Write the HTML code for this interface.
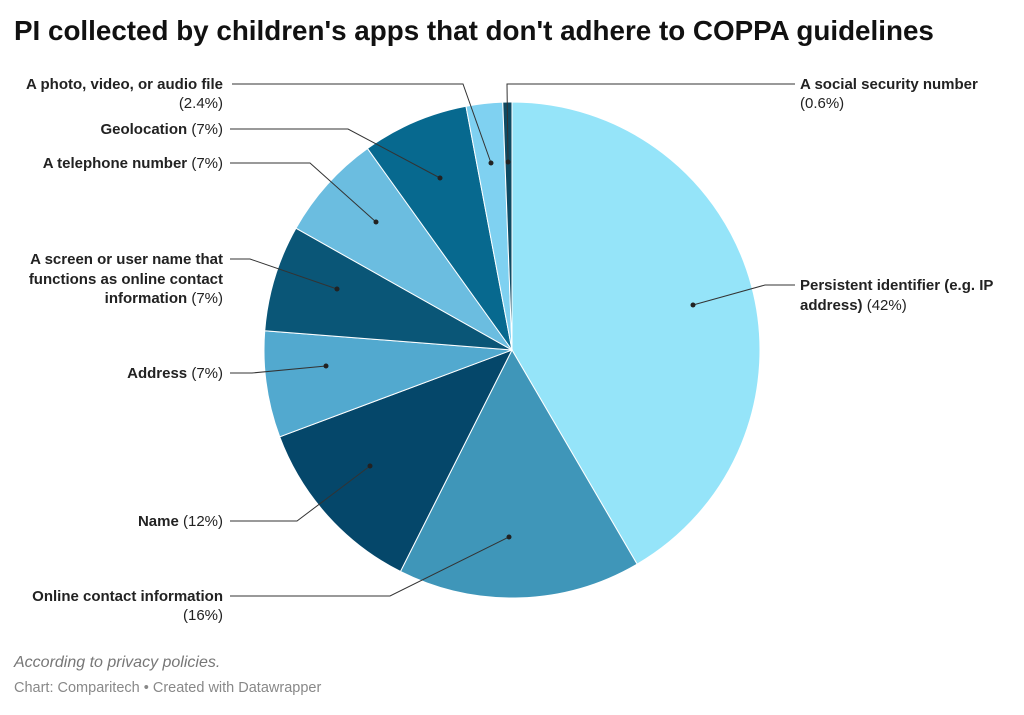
<!DOCTYPE html>
<html><head><meta charset="utf-8"><style>
body{margin:0;background:#fff;font-family:"Liberation Sans",sans-serif;}
svg text{font-family:"Liberation Sans",sans-serif;font-size:15px;fill:#222;}
.b{font-weight:bold;}
</style></head><body>
<svg width="1024" height="710" xmlns="http://www.w3.org/2000/svg">
<text x="14" y="40" style="font-size:27.8px;font-weight:bold;fill:#111">PI collected by children's apps that don't adhere to COPPA guidelines</text>
<g id="pie"></g>
<g stroke="#333" stroke-width="1" fill="none">
<polyline points="795,84 507,84 508,162"/>
<polyline points="232,84 463,84 491,163"/>
<polyline points="230,129 348,129 440,178"/>
<polyline points="230,163 310,163 376,222"/>
<polyline points="230,259 250,259 337,289"/>
<polyline points="230,373 252,373 326,366"/>
<polyline points="230,521 297,521 370,466"/>
<polyline points="230,596 390,596 509,537"/>
<polyline points="795,285 765,285 693,305"/>
</g>
<g fill="#222">
<circle cx="508" cy="162" r="2.5"/><circle cx="491" cy="163" r="2.5"/><circle cx="440" cy="178" r="2.5"/>
<circle cx="376" cy="222" r="2.5"/><circle cx="337" cy="289" r="2.5"/><circle cx="326" cy="366" r="2.5"/>
<circle cx="370" cy="466" r="2.5"/><circle cx="509" cy="537" r="2.5"/><circle cx="693" cy="305" r="2.5"/>
</g>
<text x="800" y="89" class="b">A social security number</text>
<text x="800" y="108">(0.6%)</text>
<text x="223" y="89" text-anchor="end" class="b">A photo, video, or audio file</text>
<text x="223" y="108" text-anchor="end">(2.4%)</text>
<text x="223" y="134" text-anchor="end"><tspan class="b">Geolocation</tspan> (7%)</text>
<text x="223" y="168" text-anchor="end"><tspan class="b">A telephone number</tspan> (7%)</text>
<text x="223" y="264" text-anchor="end" class="b">A screen or user name that</text>
<text x="223" y="284" text-anchor="end" class="b">functions as online contact</text>
<text x="223" y="303" text-anchor="end"><tspan class="b">information</tspan> (7%)</text>
<text x="223" y="378" text-anchor="end"><tspan class="b">Address</tspan> (7%)</text>
<text x="223" y="526" text-anchor="end"><tspan class="b">Name</tspan> (12%)</text>
<text x="223" y="601" text-anchor="end" class="b">Online contact information</text>
<text x="223" y="620" text-anchor="end">(16%)</text>
<text x="800" y="290" class="b">Persistent identifier (e.g. IP</text>
<text x="800" y="310"><tspan class="b">address)</tspan> (42%)</text>
<text x="14" y="667" style="font-size:16px;font-style:italic;fill:#777">According to privacy policies.</text>
<text x="14" y="692" style="font-size:14.5px;fill:#888">Chart: Comparitech • Created with Datawrapper</text>
</svg>
<script>
var d=[[42,"#95e4f9"],[16,"#3f96b9"],[12,"#05476a"],[7,"#52a9cf"],[7,"#0a5677"],[7,"#6bbde0"],[7,"#07698f"],[2.4,"#7fd1f1"],[0.6,"#0d4a63"]];
var cx=512,cy=350,r=248,tot=101,a=0,g=document.getElementById("pie"),s="";
d.forEach(function(x){var a1=a+x[0]/tot*2*Math.PI;
var x0=cx+r*Math.sin(a),y0=cy-r*Math.cos(a),x1=cx+r*Math.sin(a1),y1=cy-r*Math.cos(a1);
s+='<path d="M'+cx+','+cy+'L'+x0+','+y0+'A'+r+','+r+' 0 '+(a1-a>Math.PI?1:0)+' 1 '+x1+','+y1+'Z" fill="'+x[1]+'" stroke="#fff" stroke-width="1"/>';a=a1;});
g.innerHTML=s;
</script>
</body></html>
